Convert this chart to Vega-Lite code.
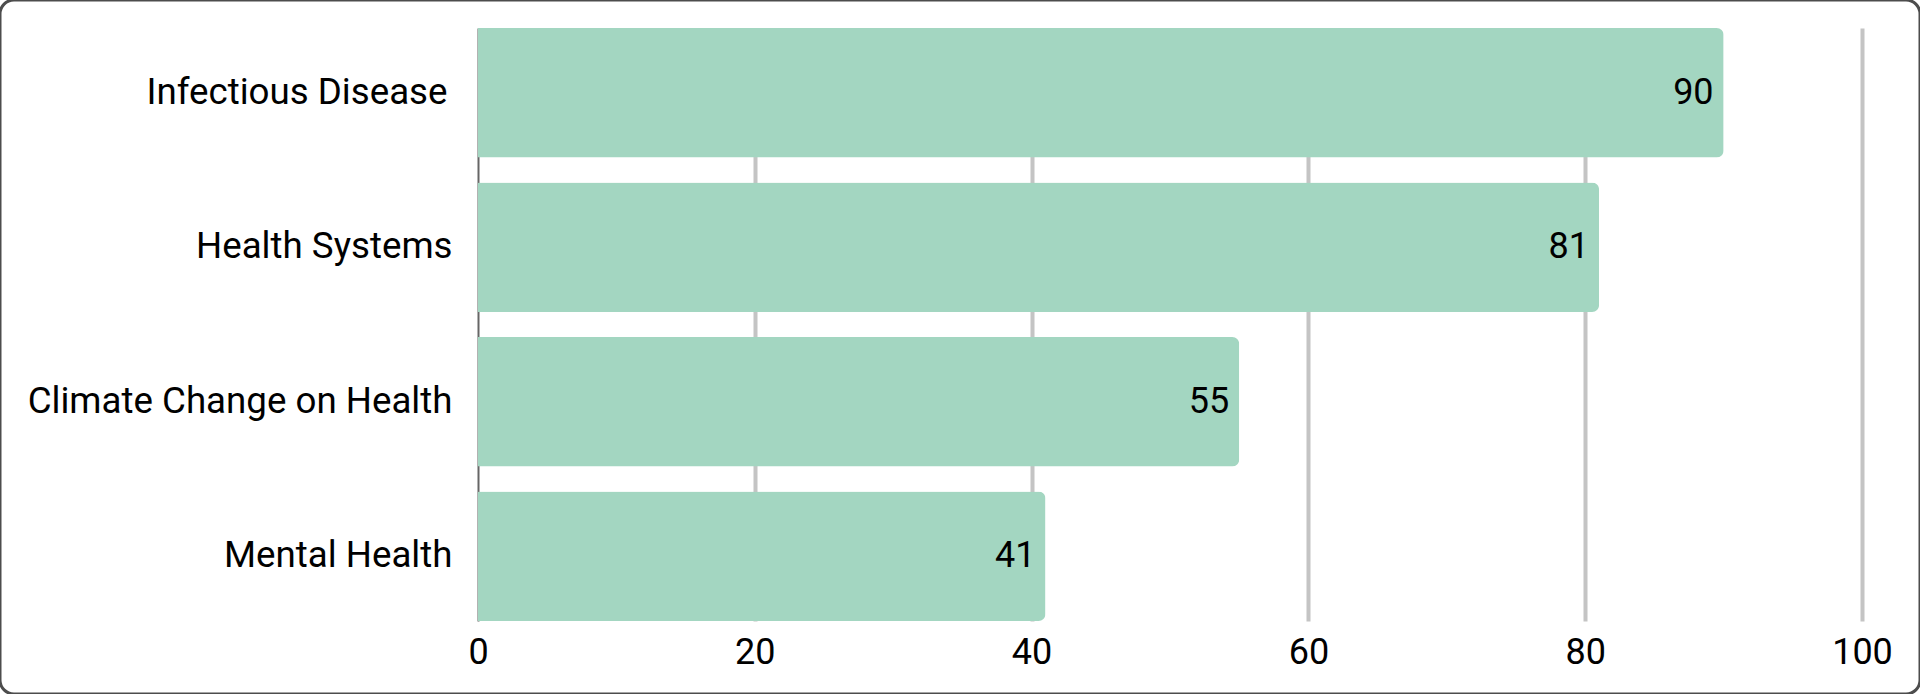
{
  "$schema": "https://vega.github.io/schema/vega-lite/v6.json",
  "width": 1920,
  "height": 694,
  "padding": 0,
  "autosize": {"type": "none"},
  "background": "white",
  "config": {
    "view": {"stroke": "#4d4d4d", "strokeWidth": 3, "cornerRadius": 14, "fill": "white"},
    "font": "Roboto"
  },
  "data": {
    "values": [
      {"topic": "Infectious Disease", "value": 90},
      {"topic": "Health Systems", "value": 81},
      {"topic": "Climate Change on Health", "value": 55},
      {"topic": "Mental Health", "value": 41}
    ]
  },
  "encoding": {
    "y": {
      "field": "topic",
      "type": "nominal",
      "sort": null,
      "scale": {"range": [28, 621], "paddingInner": 0.162, "paddingOuter": 0},
      "axis": {
        "title": null,
        "orient": "left",
        "offset": -478,
        "ticks": false,
        "labelPadding": {"condition": {"test": "datum.value === 'Infectious Disease'", "value": 31}, "value": 26},
        "labelFontSize": 36.7,
        "labelFont": "Roboto",
        "labelColor": "#000000",
        "labelLimit": 0,
        "domainColor": "#666666",
        "domainWidth": 2,
        "grid": false
      }
    },
    "x": {
      "field": "value",
      "type": "quantitative",
      "scale": {"domain": [0, 100], "range": [478, 1862], "nice": false, "zero": true},
      "axis": {
        "title": null,
        "orient": "top",
        "values": [0, 20, 40, 60, 80, 100],
        "offset": -621,
        "domain": false,
        "ticks": false,
        "labelPadding": -14,
        "labelBaseline": "top",
        "labelFontSize": 36,
        "labelFont": "Roboto",
        "labelColor": "#000000",
        "labelFlush": false,
        "grid": true,
        "gridColor": {"condition": {"test": "datum.value === 0", "value": "transparent"}, "value": "#c4c4c4"},
        "gridWidth": 4
      }
    }
  },
  "layer": [
    {"mark": {"type": "bar", "color": "#a3d6c1", "cornerRadiusEnd": 7}},
    {
      "mark": {"type": "text", "align": "right", "dx": -10, "baseline": "middle", "fontSize": 36, "font": "Roboto", "color": "#000000"},
      "encoding": {"text": {"field": "value", "type": "quantitative"}}
    }
  ]
}
